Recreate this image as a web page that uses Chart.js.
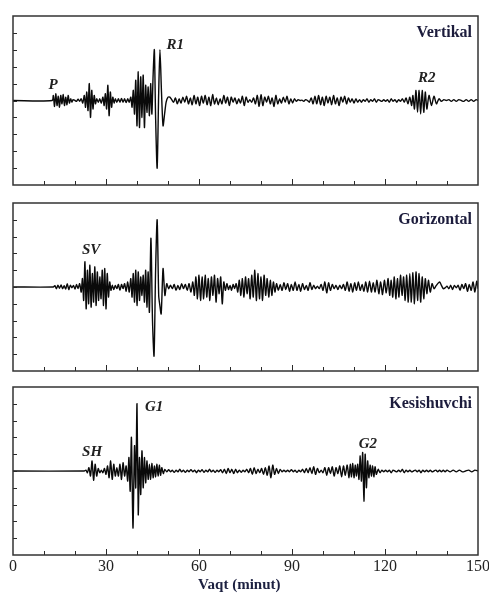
<!DOCTYPE html>
<html>
<head>
<meta charset="utf-8">
<script src="https://cdn.jsdelivr.net/npm/chart.js@4.4.1/dist/chart.umd.min.js"></script>
<style>
  html, body { margin: 0; padding: 0; background: #fff; }
  #wrap { position: relative; width: 489px; height: 594px; overflow: hidden; }
  #wrap canvas { position: absolute; left: 0; }
</style>
</head>
<body>
<div id="wrap">
  <canvas id="vertChart" width="489" height="190" style="top:0px"></canvas>
  <canvas id="horzChart" width="489" height="185" style="top:190px"></canvas>
  <canvas id="crossChart" width="489" height="219" style="top:375px"></canvas>
</div>
<script>
// time in minutes, amplitude in arbitrary units (one left tick = 1)
const vertical = [
  [0,0],[12.6,0],[13,0.3],[13.4,-0.35],[13.8,0.4],[14.2,-0.3],[14.6,0.25],[15,-0.4],[15.4,0.3],[15.8,-0.2],
  [16.2,0.35],[16.6,-0.3],[17,0.2],[17.4,-0.25],[17.8,0.3],[18.2,-0.15],[18.6,0.1],[19,-0.1],[19.4,0.05],[20,0],
  [20.5,-0.05],[21,0.08],[21.5,-0.05],[22,0.1],[22.5,-0.15],[23,0.3],[23.4,-0.4],[23.8,0.5],[24.2,-0.6],[24.6,1.0],
  [25,-1.0],[25.4,0.6],[25.8,-0.5],[26.2,0.3],[26.6,-0.2],[27,0.1],[27.5,-0.1],[28,0.1],[28.5,-0.15],[29,0.2],
  [29.4,-0.3],[29.8,0.4],[30.2,-0.5],[30.6,0.9],[31,-0.9],[31.4,0.5],[31.8,-0.4],[32.2,0.2],[32.6,-0.15],[33,0.1],
  [33.5,-0.1],[34,0.1],[34.5,-0.1],[35,0.12],[35.5,-0.1],[36,0.1],[36.5,-0.12],[37,0.1],[37.5,-0.1],
  [38,0.2],[38.4,-0.4],[38.8,0.6],[39.2,-0.8],[39.6,1.2],[40,-1.5],[40.4,1.7],[40.8,-1.6],[41.2,1.4],[41.6,-1.0],
  [42,1.5],[42.4,-1.6],[42.8,0.9],[43.2,-0.7],[43.6,0.8],[44,-0.9],[44.4,1.0],[44.8,-0.8],[45.2,1.5],[45.6,3.0],
  [46,-1.0],[46.5,-4.0],[47,0.5],[47.4,3.0],[47.9,0.5],[48.4,-1.5],[48.9,-0.8],[49.4,-0.1],[50,0.2],[50.6,0.2],
  [51.2,0.05],[51.8,-0.1],[52.4,0.15],[53,-0.2],[53.6,0.1],[54.2,-0.15],[54.8,0.2],[55.4,-0.1],[56,0.25],[56.6,-0.2],
  [57.2,0.15],[57.8,-0.25],[58.4,0.3],[59,-0.2],[59.6,0.2],[60.2,-0.3],[60.8,0.25],[61.4,-0.15],[62,0.3],[62.6,-0.25],
  [63.2,0.2],[63.8,-0.3],[64.4,0.35],[65,-0.2],[65.6,0.15],[66.2,-0.25],[66.8,0.1],[67.4,-0.2],[68,0.3],[68.6,-0.15],
  [69.2,0.2],[69.8,-0.3],[70.4,0.2],[71,-0.1],[71.6,0.15],[72.2,-0.2],[72.8,0.1],[73.4,-0.15],[74,0.25],[74.6,-0.3],
  [75.2,0.2],[75.8,-0.1],[76.4,0.05],[77,-0.1],[77.6,0.15],[78.2,-0.2],[78.8,0.3],[79.4,-0.35],[80,0.35],[80.6,-0.3],
  [81.2,0.2],[81.8,-0.1],[82.4,0.25],[83,-0.2],[83.6,0.15],[84.2,-0.35],[84.8,0.3],[85.4,-0.2],[86,0.1],[86.6,-0.15],
  [87.2,0.2],[87.8,-0.1],[88.4,0.25],[89,-0.2],[89.6,0.1],[90.2,-0.15],[90.8,0.1],[91.4,-0.05],[92,0.05],[92.6,0],
  [93.2,0.02],[93.8,-0.05],[94.4,0.05],[95,0],[95.6,-0.1],[96.2,0.15],[96.8,-0.2],[97.4,0.25],[98,-0.2],[98.6,0.3],
  [99.2,-0.25],[99.8,0.2],[100.4,-0.3],[101,0.25],[101.6,-0.15],[102.2,0.2],[102.8,-0.25],[103.4,0.3],[104,-0.2],[104.6,0.15],
  [105.2,-0.3],[105.8,0.2],[106.4,-0.1],[107,0.25],[107.6,-0.2],[108.2,0.15],[108.8,-0.1],[109.4,0.1],[110,-0.15],[110.6,0.1],
  [111.2,-0.1],[111.8,0.05],[112.4,-0.1],[113,0.05],[113.6,-0.05],[114.2,0.1],[114.8,-0.1],[115.4,0.05],[116,-0.05],[116.6,0.1],
  [117.2,-0.1],[117.8,0.05],[118.4,0],[119,-0.05],[119.6,0.05],[120.2,-0.05],[120.8,0.05],[121.4,-0.1],[122,0.1],[122.6,-0.05],
  [123.2,0.05],[123.8,-0.1],[124.4,0.05],[125,-0.05],[125.6,0.1],[126.2,-0.1],[126.8,0.15],[127.4,-0.2],[128,0.2],[128.6,-0.3],
  [129,0.3],[129.5,-0.5],[130,0.6],[130.5,-0.7],[131,0.6],[131.5,-0.8],[132,0.6],[132.5,-0.7],[133,0.5],[133.5,-0.5],
  [134.2,0.3],[135,-0.3],[135.8,0.25],[136.6,-0.2],[137.4,0.1],[138.2,-0.05],[139,0.05],[139.8,0],[140.6,0.05],[141.4,-0.05],
  [142.2,0.05],[143,-0.05],[143.8,0.05],[144.6,0],[145.4,-0.05],[146.2,0.05],[147,-0.05],[147.8,0.05],[148.6,-0.05],[149.4,0.05],[150,0]
];

const horizontal = [
  [0,0],[13,0],[13.5,0.08],[14,-0.1],[14.5,0.1],[15,-0.08],[15.5,0.12],[16,-0.1],[16.5,0.08],[17,-0.12],
  [17.5,0.2],[18,-0.15],[18.5,0.1],[19,-0.05],[19.5,0.1],[20,-0.12],[20.5,0.15],[21,-0.1],[21.5,0.2],[22,-0.3],
  [22.4,0.5],[22.8,-0.8],[23.2,1.5],[23.6,-1.3],[24,1.0],[24.4,-1.0],[24.8,1.3],[25.2,-1.2],[25.6,0.8],[26,-0.9],
  [26.4,1.2],[26.8,-1.1],[27.2,0.9],[27.6,-0.8],[28,0.6],[28.4,-0.7],[28.8,1.0],[29.2,-1.1],[29.6,1.1],[30,-1.3],
  [30.4,0.8],[30.8,-0.6],[31.2,0.3],[31.6,-0.2],[32,0.1],[32.5,-0.15],[33,0.1],[33.5,-0.1],[34,0.15],[34.5,-0.2],
  [35,0.15],[35.5,-0.1],[36,0.2],[36.5,-0.25],[37,0.3],[37.5,-0.3],[38,0.5],[38.4,-0.6],[38.8,0.8],[39.2,-0.9],
  [39.6,1.0],[40,-1.1],[40.4,0.9],[40.8,-0.8],[41.2,0.6],[41.6,-0.5],[42,0.7],[42.4,-0.9],[42.8,1.0],[43.2,-1.2],
  [43.6,0.9],[44,-1.5],[44.5,2.9],[45,-2.0],[45.5,-4.1],[46,1.0],[46.5,4.0],[47,-0.5],[47.3,-1.0],[47.8,-1.6],
  [48.4,1.1],[49,-0.5],[49.6,0.2],[50.2,-0.1],[50.8,0.1],[51.4,-0.1],[52,0.15],[52.6,-0.2],[53.2,0.1],[53.8,-0.15],
  [54.4,0.2],[55,-0.1],[55.6,0.15],[56.2,-0.2],[56.8,0.2],[57.4,-0.3],[58,0.3],[58.5,-0.5],[59,0.6],[59.5,-0.7],
  [60,0.7],[60.5,-0.8],[61,0.6],[61.5,-0.7],[62,0.7],[62.5,-0.6],[63,0.5],[63.5,-0.8],[64,0.6],[64.5,-0.5],
  [65,0.7],[65.5,-0.9],[66,0.5],[66.5,-0.4],[67,0.6],[67.5,-1.0],[68,0.3],[68.5,-0.2],[69,0.2],[69.5,-0.15],
  [70,0.1],[70.5,-0.2],[71,0.15],[71.5,-0.1],[72,0.2],[72.5,-0.3],[73,0.4],[73.5,-0.5],[74,0.5],[74.5,-0.6],
  [75,0.6],[75.5,-0.4],[76,0.5],[76.5,-0.7],[77,0.7],[77.5,-0.6],[78,1.0],[78.5,-0.8],[79,0.8],[79.5,-0.7],
  [80,0.6],[80.5,-0.8],[81,0.7],[81.5,-0.5],[82,0.5],[82.5,-0.6],[83,0.4],[83.5,-0.5],[84,0.3],[84.5,-0.3],
  [85,0.2],[85.6,-0.2],[86.2,0.15],[86.8,-0.2],[87.4,0.25],[88,-0.15],[88.6,0.2],[89.2,-0.25],[89.8,0.15],[90.4,-0.2],
  [91,0.3],[91.6,-0.2],[92.2,0.15],[92.8,-0.25],[93.4,0.2],[94,-0.15],[94.6,0.1],[95.2,-0.2],[95.8,0.25],[96.4,-0.15],
  [97,0.1],[97.6,-0.1],[98.2,0.05],[98.8,-0.1],[99.4,0.15],[100,-0.2],[100.6,0.3],[101.2,-0.35],[101.8,0.25],[102.4,-0.2],
  [103,0.15],[103.6,-0.1],[104.2,0.1],[104.8,-0.15],[105.4,0.1],[106,-0.1],[106.6,0.15],[107.2,-0.2],[107.8,0.3],[108.4,-0.25],
  [109,0.2],[109.6,-0.3],[110.2,0.25],[110.8,-0.2],[111.4,0.3],[112,-0.2],[112.6,0.15],[113.2,-0.25],[113.8,0.3],[114.4,-0.3],
  [115,0.35],[115.6,-0.3],[116.2,0.25],[116.8,-0.3],[117.4,0.4],[118,-0.4],[118.6,0.3],[119.2,-0.45],[119.8,0.4],[120.4,-0.35],
  [121,0.5],[121.5,-0.5],[122,0.4],[122.5,-0.6],[123,0.6],[123.5,-0.7],[124,0.5],[124.5,-0.6],[125,0.7],[125.5,-0.5],
  [126,0.6],[126.5,-0.8],[127,0.7],[127.5,-0.9],[128,0.8],[128.5,-0.9],[129,0.85],[129.5,-1.0],[130,0.9],[130.5,-0.8],
  [131,0.8],[131.5,-0.9],[132,0.6],[132.5,-0.7],[133,0.5],[133.5,-0.4],[134,0.4],[134.6,-0.3],[135.2,0.2],[135.8,-0.1],
  [136.4,0.05],[137,0.2],[137.6,0.3],[138.2,0.1],[138.8,-0.1],[139.4,-0.05],[140,0.05],[140.6,-0.1],[141.2,0.1],[141.8,-0.15],
  [142.4,0.1],[143,-0.05],[143.6,0.1],[144.2,-0.2],[144.8,0.15],[145.4,-0.1],[146,0.2],[146.6,-0.25],[147.2,0.15],[147.8,-0.2],
  [148.4,0.3],[149,-0.3],[149.6,0.35],[150,-0.1]
];

const transverse = [
  [0,0],[23,0],[23.5,0.05],[24,-0.1],[24.5,0.2],[25,-0.3],[25.5,0.6],[26,-0.55],[26.5,0.4],[27,-0.3],
  [27.5,0.15],[28,-0.1],[28.5,0.05],[29,-0.1],[29.5,0.15],[30,-0.2],[30.5,0.3],[31,-0.4],[31.5,0.6],[32,-0.5],
  [32.5,0.4],[33,-0.3],[33.5,0.2],[34,-0.3],[34.5,0.4],[35,-0.5],[35.5,0.5],[36,-0.3],[36.5,0.3],[37,-0.6],
  [37.4,0.8],[37.8,-1.2],[38.2,2.0],[38.7,-3.4],[39.2,1.5],[39.6,-1.0],[40,4.0],[40.4,-2.6],[40.8,0.8],[41.2,-1.4],
  [41.6,1.2],[42,-1.0],[42.4,0.8],[42.8,-0.7],[43.2,0.6],[43.6,-0.5],[44,0.4],[44.4,-0.5],[44.8,0.45],[45.2,-0.4],
  [45.6,0.3],[46,-0.35],[46.4,0.4],[46.8,-0.3],[47.2,0.35],[47.6,-0.25],[48,0.2],[48.5,-0.15],[49,0.1],[49.6,-0.05],
  [50.2,0.08],[50.8,-0.05],[51.4,0.05],[52,-0.08],[52.6,0.05],[53.2,-0.05],[53.8,0.1],[54.4,-0.05],[55,0.05],[55.6,-0.08],
  [56.2,0.05],[56.8,-0.05],[57.4,0.08],[58,-0.05],[58.6,0.05],[59.2,-0.1],[59.8,0.05],[60.4,-0.05],[61,0.08],[61.6,-0.08],
  [62.2,0.05],[62.8,-0.05],[63.4,0.1],[64,-0.05],[64.6,0.05],[65.2,-0.08],[65.8,0.05],[66.4,-0.05],[67,0.08],[67.6,-0.1],
  [68.2,0.1],[68.8,-0.15],[69.4,0.15],[70,-0.1],[70.6,0.1],[71.2,-0.15],[71.8,0.1],[72.4,-0.1],[73,0.05],[73.6,-0.08],
  [74.2,0.05],[74.8,-0.05],[75.4,0.1],[76,-0.1],[76.6,0.15],[77.2,-0.2],[77.8,0.2],[78.4,-0.15],[79,0.1],[79.6,-0.1],
  [80.2,0.15],[80.8,-0.2],[81.4,0.2],[82,-0.25],[82.6,0.3],[83.2,-0.4],[83.8,0.35],[84.4,-0.2],[85,0.15],[85.6,-0.15],
  [86.2,0.1],[86.8,-0.05],[87.4,0.05],[88,-0.05],[88.6,0.05],[89.2,-0.05],[89.8,0.08],[90.4,-0.05],[91,0.05],[91.6,-0.08],
  [92.2,0.05],[92.8,-0.05],[93.4,0.1],[94,-0.1],[94.6,0.15],[95.2,-0.1],[95.8,0.2],[96.4,-0.15],[97,0.25],[97.6,-0.2],
  [98.2,0.15],[98.8,-0.1],[99.4,0.05],[100,-0.1],[100.6,0.2],[101.2,-0.25],[101.8,0.2],[102.4,-0.15],[103,0.25],[103.6,-0.3],
  [104.2,0.2],[104.8,-0.15],[105.4,0.3],[106,-0.35],[106.6,0.3],[107.2,-0.25],[107.8,0.35],[108.4,-0.4],[108.8,0.4],[109.2,-0.35],
  [109.6,0.45],[110,-0.4],[110.4,0.35],[110.8,-0.3],[111.2,0.4],[111.6,-0.5],[112,0.9],[112.4,-0.6],[112.8,1.1],[113.2,-1.8],
  [113.6,1.0],[114,-1.0],[114.4,0.6],[114.8,-0.4],[115.2,0.35],[115.6,-0.3],[116,0.3],[116.4,-0.35],[116.8,0.25],[117.2,-0.2],
  [117.8,0.1],[118.4,-0.1],[119,0.05],[119.6,-0.05],[120.2,0.05],[120.8,-0.05],[121.4,0.05],[122,-0.1],[122.6,0.05],[123.2,0],
  [123.8,-0.05],[124.4,0.05],[125,-0.05],[125.6,0.1],[126.2,-0.1],[126.8,0.05],[127.4,-0.05],[128,0.05],[128.6,-0.05],[129.2,0],
  [129.8,0.05],[130.4,-0.05],[131,0.05],[131.6,-0.1],[132.2,0.05],[132.8,-0.05],[133.4,0.05],[134,-0.05],[134.6,0.05],[135.2,-0.05],
  [135.8,0],[136.4,0.05],[137,-0.05],[137.6,0.05],[138.2,-0.05],[138.8,0.05],[139.4,-0.05],[140,0.05],[141,-0.05],[142,0.05],
  [143,-0.05],[144,0.05],[145,-0.05],[146,0],[147,0.05],[148,-0.05],[149,0.05],[150,0]
];

// phase labels: [text, minute, amplitude]
const vertPhases = [["P", 12.9, 0.9], ["R1", 52.3, 3.25], ["R2", 133.5, 1.35]];
const horzPhases = [["SV", 25.2, 2.2]];
const crossPhases = [["SH", 25.5, 1.13], ["G1", 45.5, 3.8], ["G2", 114.5, 1.6]];

const xMinorTicks = [10, 20, 30, 40, 50, 60, 70, 80, 90, 100, 110, 120, 130, 140];
const yTicks = [-4, -3, -2, -1, 0, 1, 2, 3, 4];
const xTickLabels = [0, 30, 60, 90, 120, 150];

const frameTicks = {
    id: 'frameTicks',
    afterDraw(chart, args, opts) {
        const ctx = chart.ctx;
        const {left, right, top, bottom} = chart.chartArea;
        const x = chart.scales.x, y = chart.scales.y;
        ctx.save();
        ctx.strokeStyle = '#2a2a2a';
        ctx.lineWidth = 1;
        xMinorTicks.forEach(t => {
            const px = Math.round(x.getPixelForValue(t)) + 0.5;
            const len = t % 30 === 0 ? 6 : 4;
            ctx.beginPath();
            ctx.moveTo(px, bottom);
            ctx.lineTo(px, bottom - len);
            ctx.stroke();
        });
        yTicks.forEach(v => {
            const py = Math.round(y.getPixelForValue(v)) + 0.5;
            ctx.beginPath();
            ctx.moveTo(left, py);
            ctx.lineTo(left + 4, py);
            ctx.stroke();
        });
        ctx.lineWidth = 1.5;
        ctx.strokeStyle = '#333';
        ctx.strokeRect(left, top, right - left, bottom - top);

        // phase names
        ctx.fillStyle = '#222';
        ctx.font = 'italic bold 15px "Liberation Serif", serif';
        ctx.textAlign = 'center';
        ctx.textBaseline = 'middle';
        opts.phases.forEach(p => {
            ctx.fillText(p[0], x.getPixelForValue(p[1]), y.getPixelForValue(p[2]));
        });

        // panel name
        ctx.fillStyle = '#1c1c3c';
        ctx.font = 'bold 16px "Liberation Serif", serif';
        ctx.textAlign = 'right';
        ctx.fillText(opts.name, right - 6, top + 17);

        if (opts.bottomAxis) {
            ctx.fillStyle = '#222';
            ctx.font = '16px "Liberation Serif", serif';
            ctx.textAlign = 'center';
            xTickLabels.forEach(t => {
                ctx.fillText(String(t), x.getPixelForValue(t), bottom + 12);
            });
            ctx.fillStyle = '#1c2040';
            ctx.font = 'bold 15px "Liberation Serif", serif';
            ctx.fillText('Vaqt (minut)', x.getPixelForValue(73), bottom + 30);
        }
        ctx.restore();
    }
};

function makePanel(id, trace, name, phases, pad, bottomAxis) {
    const ctx = document.getElementById(id).getContext('2d');
    return new Chart(ctx, {
        type: 'line',
        data: {
            datasets: [{
                data: trace.map(p => ({x: p[0], y: p[1]})),
                borderColor: '#0a0a0a',
                borderWidth: 1.4,
                pointRadius: 0,
                tension: 0.25,
                fill: false
            }]
        },
        options: {
            responsive: false,
            animation: false,
            layout: { padding: pad },
            plugins: {
                legend: { display: false },
                tooltip: { enabled: false },
                frameTicks: { name: name, phases: phases, bottomAxis: bottomAxis }
            },
            scales: {
                x: { type: 'linear', min: 0, max: 150, display: false },
                y: { min: -5, max: 5, display: false }
            }
        },
        plugins: [frameTicks]
    });
}

makePanel('vertChart', vertical, 'Vertikal', vertPhases, {left: 13, right: 11, top: 16, bottom: 5}, false);
makePanel('horzChart', horizontal, 'Gorizontal', horzPhases, {left: 13, right: 11, top: 13, bottom: 4}, false);
makePanel('crossChart', transverse, 'Kesishuvchi', crossPhases, {left: 13, right: 11, top: 12, bottom: 39}, true);
</script>
</body>
</html>
